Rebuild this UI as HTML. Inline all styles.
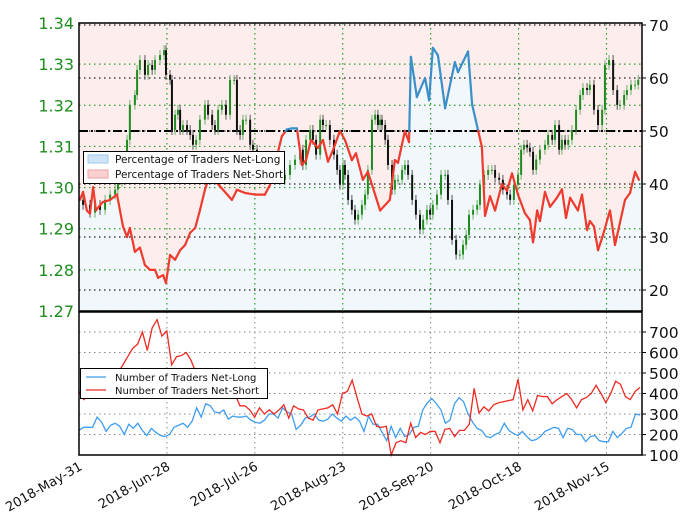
<!DOCTYPE html>
<html><head><meta charset="utf-8"><style>
html,body{margin:0;padding:0;background:#fff;}
svg{display:block;font-family:"DejaVu Sans","Liberation Sans",sans-serif;}
</style></head><body>
<svg id="chart" width="680" height="513" viewBox="0 0 680 513">
<g id="topPanel"></g>
<g id="botPanel"></g>
<g id="axesG"></g>
</svg>
<script>
const tickDates = ["2018-May-31","2018-Jun-28","2018-Jul-26","2018-Aug-23","2018-Sep-20","2018-Oct-18","2018-Nov-15"];
const tickDays = [0,28,56,84,112,140,168];
const priceTicks = [1.27,1.28,1.29,1.30,1.31,1.32,1.33,1.34];
const pctTicks = [20,30,40,50,60,70];
const countTicks = [100,200,300,400,500,600,700];
const sentDays = [0.3,1.3,2.5,3.5,4.5,5.4,6.7,7.6,9.9,12.1,14,15.3,16.2,17.8,19.4,21,22.6,24.2,25.2,26.8,27.7,29,30.6,32.2,33.8,35.4,37,38.5,40.1,41.7,48.7,50.3,52.9,56.1,59.2,60.8,64.6,66.2,67.8,69.4,71,72.3,73.9,76.1,77.7,79.3,80.9,83.1,84.7,86.9,88.2,90.4,92,95.9,99,100.6,101.6,103.8,105.1,105.7,107.6,110.2,111.5,112.7,114.3,116.6,119.7,120.7,123.9,125.2,128.3,129.3,130.9,132.5,134.7,136.3,137.9,139.8,142,143.6,144.6,145.9,146.8,148.4,150,152.2,153.8,155.1,156.4,158.9,160.2,161.8,162.7,164,165.3,166.9,169.1,170.7,173.9,175.5,177.1,178.3];
const sentVals = [37,38.5,35,34.4,39.4,35,36,36.6,37,38,32,30,31.7,27.2,28,24.7,23.8,23.8,22.3,22.8,21.3,26.6,25.7,27.5,28.5,30.8,31.7,35,38.9,41.7,37,38.9,38.3,38,38,39.8,49,50.3,50.5,50.5,43.6,44.5,48.3,46.8,48.3,44.2,46.4,50,48.3,44.5,45.8,40.8,42.3,35,37,44.5,44,50,47.9,64,56.4,60,55.8,65.7,64.3,54.3,63,61.1,65,55,47,34,37.7,35,40,38.7,42,38,34.5,33.2,29,35,33,38.5,35.7,37.4,39,33.6,37.4,35,38,31.3,33,32,27.5,30.4,35,28.5,37,38.3,42.3,40.8];
const candleDays = [0.3,1.3,3.5,5.1,6.7,8.3,9.9,11.5,12.4,13.7,
15.3,16.2,17.8,18.5,19.4,21,22,23.3,24.2,25.8,
27.1,27.7,29,29.6,30.6,31.5,32.2,33.1,34.4,35.4,
36.3,37.3,38.5,40.1,41.1,42.4,43.3,44.3,45.5,46.8,
48.1,49.4,50.3,51.3,52.2,53.2,54.5,55.4,56.7,58.3,
59.6,60.8,62.4,64,65.6,67.2,68.8,70.4,71.3,72.3,
73.6,74.5,75.5,76.8,77.7,78.7,79.9,81.2,82.2,83.1,
84.1,84.7,85.7,86.9,87.9,88.9,90.1,91.1,92,93.3,
94.3,95.2,95.9,96.5,97.5,98.4,99.7,100.6,101.6,102.9,
103.8,104.8,106.1,107.3,108.6,109.6,110.8,111.8,112.7,114,
115.3,116.6,117.5,118.8,120.1,121.3,122.3,123.3,124.2,125.5,
126.8,127.7,129,130.3,131.5,132.5,133.8,135,136.3,137.3,
138.5,139.8,140.8,141.7,142.7,143.6,144.6,145.6,146.8,148.4,
149.4,150.7,151.6,152.9,153.8,154.8,155.8,157,158.3,159.6,
160.5,161.8,162.7,164,165.3,166.6,167.5,168.8,170.1,171.4,
172.3,173.6,174.5,175.8,177.1,178.1];
const closes = [1.2970,1.2958,1.2939,1.2958,1.2946,1.2970,1.2983,1.2995,1.3014,1.3043,
1.3116,1.3201,1.3225,1.3286,1.3310,1.3274,1.3298,1.3286,1.3310,1.3322,
1.3334,1.3274,1.3262,1.3140,1.3177,1.3189,1.3140,1.3152,1.3140,1.3128,
1.3104,1.3116,1.3165,1.3201,1.3177,1.3152,1.3140,1.3189,1.3201,1.3177,
1.3262,1.3262,1.3140,1.3128,1.3165,1.3165,1.3104,1.3092,1.3068,1.3043,
1.3031,1.3068,1.3043,1.3019,1.3031,1.3055,1.3068,1.3092,1.3055,1.3116,
1.3140,1.3116,1.3080,1.3165,1.3152,1.3152,1.3116,1.3080,1.3043,1.3007,
1.3055,1.3031,1.2970,1.2946,1.2922,1.2934,1.2958,1.2983,1.3043,1.3165,
1.3177,1.3152,1.3165,1.3152,1.3116,1.3055,1.2995,1.3019,1.3019,1.3043,
1.3055,1.3031,1.2970,1.2934,1.2898,1.2922,1.2946,1.2934,1.2958,1.2983,
1.3031,1.3031,1.2970,1.2873,1.2837,1.2837,1.2861,1.2885,1.2934,1.2946,
1.2958,1.3007,1.3031,1.3043,1.3043,1.3024,1.3019,1.2995,1.2983,1.2970,
1.3007,1.3031,1.3092,1.3104,1.3097,1.3087,1.3043,1.3068,1.3092,1.3104,
1.3128,1.3116,1.3152,1.3092,1.3116,1.3104,1.3116,1.3140,1.3189,1.3225,
1.3242,1.3237,1.3250,1.3189,1.3152,1.3189,1.3298,1.3310,1.3237,1.3201,
1.3201,1.3225,1.3237,1.3250,1.3250,1.3262];
const longCounts = [220,235,235,235,285,260,215,245,255,240,200,250,230,255,220,195,230,210,195,190,200,235,245,255,235,265,330,285,350,340,310,305,320,275,290,285,285,290,270,260,255,270,300,300,280,330,310,300,225,245,280,285,300,270,265,275,300,280,265,290,270,285,265,215,290,250,250,210,170,240,185,230,190,200,235,240,320,355,375,350,320,255,270,350,380,360,300,260,230,220,190,185,200,210,255,220,205,195,215,190,170,175,190,215,225,235,230,185,230,225,200,200,165,190,195,170,165,165,215,185,205,230,235,300,295];
const shortCounts = [410,370,390,400,420,440,460,480,500,540,580,620,640,700,610,720,760,680,705,540,580,585,600,560,500,470,450,430,420,400,390,380,395,340,340,320,285,330,300,320,300,320,345,280,340,325,320,280,270,320,325,330,345,300,400,410,465,380,300,290,300,240,235,240,100,160,170,160,255,185,210,200,215,215,160,225,230,190,220,220,250,425,305,335,315,345,355,360,365,370,470,320,370,315,390,385,385,350,370,385,400,370,330,370,380,400,440,400,355,400,460,445,385,370,410,430];

const NS="http://www.w3.org/2000/svg";
const L=79,R=642,T=23,B=311,BT=312,BB=455;
const xDay=d=>L+d*3.14;
const yPrice=p=>T+(1.34-p)/0.07*(B-T);
const yPct=v=>25+(70-v)*5.3;
const yCnt=v=>BB-(v-100)*0.205;
function mk(tag,attrs,parent,text){const e=document.createElementNS(NS,tag);for(const k in attrs)e.setAttribute(k,attrs[k]);if(text!==undefined)e.textContent=text;parent.appendChild(e);return e;}
const topG=document.getElementById('topPanel'),botG=document.getElementById('botPanel'),axesG=document.getElementById('axesG');

const pts=sentDays.map((d,i)=>[xDay(d),yPct(sentVals[i])]);
const p0=[[L,pts[0][1]],...pts,[R,pts[pts.length-1][1]]];
const lineStr=p0.map(p=>p.join(',')).join(' ');
const f1=mk('polygon',{points:`${L},${T} ${lineStr} ${R},${T}`,fill:'#fdeded'},topG);


const f2=mk('polygon',{points:`${L},${B} ${lineStr} ${R},${B}`,fill:'#f1f7fb'},topG);



priceTicks.forEach(p=>{const g=mk('line',{x1:L,x2:R,y1:yPrice(p),y2:yPrice(p),stroke:'#2a9a2a','stroke-width':1.2,'stroke-dasharray':'1.5,3.5'},topG);

});
pctTicks.forEach(v=>{const g=mk('line',{x1:L,x2:R,y1:yPct(v),y2:yPct(v),stroke:'#222','stroke-width':1.2,'stroke-dasharray':'1.5,3.5'},topG);

});
tickDays.forEach(d=>{if(d===0)return;const g=mk('line',{x1:xDay(d),x2:xDay(d),y1:T,y2:B,stroke:'#2a9a2a','stroke-width':1.2,'stroke-dasharray':'1.5,3.5'},topG);

});
const ref=mk('line',{x1:L,x2:R,y1:yPct(50),y2:yPct(50),stroke:'#000','stroke-width':2,'stroke-dasharray':'9,3,2,3'},topG);



const n=Math.min(closes.length,candleDays.length);
for(let i=1;i<n;i++){
  const o=closes[i-1],c=closes[i],x=xDay(candleDays[i]);
  const hi=Math.max(o,c)+0.0012,lo=Math.min(o,c)-0.0012;
  const col=c>=o?'#1f8c1f':'#111';
  const w=mk('line',{x1:x,x2:x,y1:yPrice(hi),y2:yPrice(lo),stroke:c>=o?'#6ab06a':'#555','stroke-width':1},topG);
  
  
  const yT=yPrice(Math.max(o,c)),h=Math.max(1,yPrice(Math.min(o,c))-yT);
  const b=mk('rect',{x:x-1,y:yT,width:2,height:h,fill:col},topG);
  
  
}

const RED='#ee3b2e',BLU='#3a8fc8';
function seg(x1,y1,x2,y2,col){const s=mk('line',{x1:x1,y1:y1,x2:x2,y2:y2,stroke:col,'stroke-width':2.2,'stroke-linecap':'round'},topG);
  
  }
for(let i=0;i<pts.length-1;i++){
  const xa=pts[i][0],ya=pts[i][1],xb=pts[i+1][0],yb=pts[i+1][1],va=sentVals[i],vb=sentVals[i+1];
  if((va>=50)===(vb>=50)) seg(xa,ya,xb,yb,va>=50?BLU:RED);
  else{const t=(50-va)/(vb-va),xm=xa+t*(xb-xa),ym=ya+t*(yb-ya);seg(xa,ya,xm,ym,va>=50?BLU:RED);seg(xm,ym,xb,yb,vb>=50?BLU:RED);}
}
const fr=mk('rect',{x:L,y:T,width:R-L,height:B-T,fill:'none',stroke:'#000','stroke-width':1.5},topG);



const lg=mk('g',{},topG);


mk('rect',{x:83.5,y:151.5,width:201,height:32,fill:'#fff',stroke:'#000','stroke-width':1},lg);
mk('rect',{x:88,y:155,width:20,height:8,fill:'#cfe4f6',stroke:'#9cc8ec'},lg);
mk('rect',{x:88,y:170,width:20,height:8,fill:'#fbd0d0',stroke:'#f2a0a0'},lg);
mk('text',{x:115,y:163,'font-size':10.5,fill:'#111'},lg,'Percentage of Traders Net-Long');
mk('text',{x:115,y:178,'font-size':10.5,fill:'#111'},lg,'Percentage of Traders Net-Short');

countTicks.forEach(v=>{if(v===100)return;const g=mk('line',{x1:L,x2:R,y1:yCnt(v),y2:yCnt(v),stroke:'#888','stroke-width':1,'stroke-dasharray':'1.5,3.5'},botG);

});
tickDays.forEach(d=>{if(d===0)return;const g=mk('line',{x1:xDay(d),x2:xDay(d),y1:BT,y2:BB,stroke:'#888','stroke-width':1,'stroke-dasharray':'1.5,3.5'},botG);

});
function series(arr,col,name){
  const m=arr.length;const p=arr.map((v,i)=>`${L+(R-2-L)*i/(m-1)},${yCnt(v)}`).join(' ');
  const e=mk('polyline',{points:p,fill:'none',stroke:col,'stroke-width':1.3},botG);
  
  
}
series(longCounts,'#3d9df0','net-long-count-line');
series(shortCounts,'#ee2a22','net-short-count-line');
const fr2=mk('rect',{x:L,y:BT,width:R-L,height:BB-BT,fill:'none',stroke:'#000','stroke-width':1.5},botG);


const lg2=mk('g',{},botG);


mk('rect',{x:80.5,y:368.5,width:187,height:30,fill:'#fff',stroke:'#000','stroke-width':1},lg2);
mk('line',{x1:86,x2:106,y1:377,y2:377,stroke:'#3d9df0','stroke-width':1.3},lg2);
mk('line',{x1:86,x2:106,y1:390,y2:390,stroke:'#ee2a22','stroke-width':1.3},lg2);
mk('text',{x:115,y:381,'font-size':10,fill:'#111'},lg2,'Number of Traders Net-Long');
mk('text',{x:115,y:394,'font-size':10,fill:'#111'},lg2,'Number of Traders Net-Short');

priceTicks.forEach(p=>{const t=mk('text',{x:74,y:yPrice(p)+6,'font-size':16,fill:'#1e8c1e','text-anchor':'end'},axesG,p.toFixed(2));

});
pctTicks.forEach(v=>{mk('line',{x1:R,x2:R+4,y1:yPct(v),y2:yPct(v),stroke:'#000'},axesG);const t=mk('text',{x:649,y:yPct(v)+6,'font-size':15.5,fill:'#111'},axesG,String(v));

});
countTicks.forEach(v=>{mk('line',{x1:R,x2:R+4,y1:yCnt(v),y2:yCnt(v),stroke:'#000'},axesG);const t=mk('text',{x:649,y:yCnt(v)+6,'font-size':15.5,fill:'#111'},axesG,String(v));

});
tickDates.forEach((s,i)=>{const x=xDay(tickDays[i]);const t=mk('text',{x:0,y:0,'font-size':13,fill:'#111','text-anchor':'end',transform:`translate(${x+4},469) rotate(-30)`},axesG,s);

});
</script>
</body></html>
